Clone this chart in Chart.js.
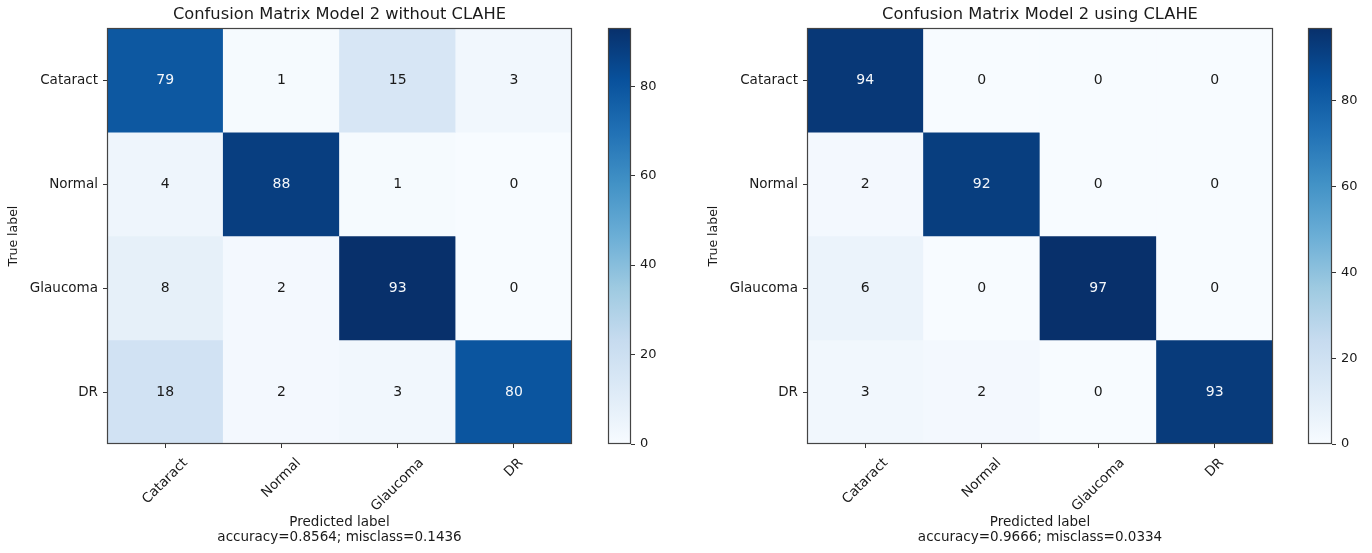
<!DOCTYPE html>
<html>
<head>
<meta charset="utf-8">
<script src="https://cdn.jsdelivr.net/npm/chart.js@4.4.0/dist/chart.umd.min.js"></script>
<style>
  html, body { margin: 0; padding: 0; background: #fff; }
  #wrap { position: relative; width: 1372px; height: 553px; }
  canvas { position: absolute; top: 0; }
</style>
</head>
<body>
<div id="wrap">
  <canvas id="cmLeft" width="590" height="553" style="left:0px"></canvas>
  <canvas id="cbLeft" width="80" height="553" style="left:590px"></canvas>
  <canvas id="cmRight" width="590" height="553" style="left:700px"></canvas>
  <canvas id="cbRight" width="82" height="553" style="left:1290px"></canvas>
</div>
<script>
// class names, used for both axes (true label rows, predicted label columns)
const classLabels = ["Cataract", "Normal", "Glaucoma", "DR"];

// model 2 without CLAHE, one array per true class
const noClaheCataract = [79, 1, 15, 3];
const noClaheNormal   = [4, 88, 1, 0];
const noClaheGlaucoma = [8, 2, 93, 0];
const noClaheDR       = [18, 2, 3, 80];

// model 2 using CLAHE
const claheCataract = [94, 0, 0, 0];
const claheNormal   = [2, 92, 0, 0];
const claheGlaucoma = [6, 0, 97, 0];
const claheDR       = [3, 2, 0, 93];

const colorbarTicks = [0, 20, 40, 60, 80];

// matplotlib "Blues"
const bluesStops = ["#f7fbff", "#deebf7", "#c6dbef", "#9ecae1", "#6baed6", "#4292c6", "#2171b5", "#08519c", "#08306b"];

const FONT = "DejaVu Sans";
const TXT = "#1a1a1a";

const hexToRgb = h => [1, 3, 5].map(i => parseInt(h.substr(i, 2), 16));

const blues = (t) => {
    t = Math.max(0, Math.min(1, t));
    const pos = t * (bluesStops.length - 1);
    const i = Math.min(Math.floor(pos), bluesStops.length - 2);
    const f = pos - i;
    const a = hexToRgb(bluesStops[i]);
    const b = hexToRgb(bluesStops[i + 1]);
    const c = a.map((v, k) => Math.round(v + (b[k] - v) * f));
    return `rgb(${c[0]}, ${c[1]}, ${c[2]})`;
};

const framePlugin = {
    id: "frame",
    afterDatasetsDraw(chart) {
        const { ctx, chartArea: a } = chart;
        ctx.save();
        ctx.strokeStyle = "#444";
        ctx.lineWidth = 1.2;
        ctx.strokeRect(Math.round(a.left) + 0.5, Math.round(a.top) + 0.5,
            Math.round(a.right - a.left) - 1, Math.round(a.bottom - a.top) - 1);
        ctx.restore();
    }
};

const makeMatrix = (canvasId, title, xTitle, rows, padRight) => {
    const maxVal = Math.max(...rows.flat());
    const datasets = rows.map((row, r) => ({
        label: classLabels[r],
        data: row.map(() => [r, r + 1]),
        values: row,
        backgroundColor: row.map(v => blues(v / maxVal)),
        borderWidth: 0,
        grouped: false,
        barPercentage: 1,
        categoryPercentage: 1
    }));

    const cellText = {
        id: "cellText",
        afterDatasetsDraw(chart) {
            const ctx = chart.ctx;
            ctx.save();
            ctx.font = `14px "${FONT}"`;
            ctx.textAlign = "center";
            ctx.textBaseline = "middle";
            chart.data.datasets.forEach((ds, r) => {
                chart.getDatasetMeta(r).data.forEach((bar, c) => {
                    const v = ds.values[c];
                    ctx.fillStyle = v > maxVal / 1.5 ? "#f4f7fb" : TXT;
                    ctx.fillText(String(v), bar.x, (bar.y + bar.base) / 2);
                });
            });
            ctx.restore();
        }
    };

    // x tick labels rotated 45deg and centred under each tick
    const rotatedLabels = {
        id: "rotatedLabels",
        afterDraw(chart) {
            const ctx = chart.ctx;
            const xs = chart.scales.x;
            ctx.save();
            ctx.font = `13.5px "${FONT}"`;
            ctx.fillStyle = TXT;
            ctx.textAlign = "center";
            ctx.textBaseline = "middle";
            chart.data.labels.forEach((lab, i) => {
                const x = xs.getPixelForTick(i);
                const w = ctx.measureText(lab).width;
                const cy = xs.top + 13 + (w + 11) * 0.7071 / 2;
                ctx.save();
                ctx.translate(x, cy);
                ctx.rotate(-Math.PI / 4);
                ctx.fillText(lab, 0, 0);
                ctx.restore();
            });
            ctx.restore();
        }
    };

    return new Chart(document.getElementById(canvasId), {
        type: "bar",
        data: { labels: classLabels, datasets: datasets },
        options: {
            responsive: false,
            animation: false,
            layout: { padding: { left: 0, top: 0, right: padRight, bottom: 0 } },
            plugins: {
                legend: { display: false },
                tooltip: { enabled: false },
                title: {
                    display: true,
                    text: title,
                    fullSize: false,
                    color: TXT,
                    font: { family: FONT, size: 16.3, weight: "normal" },
                    padding: { top: 5, bottom: 3.5 }
                }
            },
            scales: {
                x: {
                    type: "category",
                    offset: true,
                    grid: { display: true, drawOnChartArea: false, drawTicks: true, tickLength: 4, offset: false, color: "#333" },
                    border: { display: false },
                    ticks: { display: false },
                    title: {
                        display: true,
                        text: ["Predicted label", xTitle],
                        color: TXT,
                        font: { family: FONT, size: 13.5, lineHeight: 1.12 },
                        padding: { top: 0, bottom: 8 }
                    },
                    afterFit: s => { s.height = 109; }
                },
                y: {
                    type: "linear",
                    min: 0,
                    max: 4,
                    reverse: true,
                    afterBuildTicks: s => { s.ticks = [0.5, 1.5, 2.5, 3.5].map(v => ({ value: v })); },
                    grid: { display: true, drawOnChartArea: false, drawTicks: true, tickLength: 4, color: "#333" },
                    border: { display: false },
                    ticks: {
                        callback: (v, i) => classLabels[i],
                        color: TXT,
                        padding: 5,
                        font: { family: FONT, size: 13.5 }
                    },
                    title: {
                        display: true,
                        text: "True label",
                        color: TXT,
                        font: { family: FONT, size: 12.5 },
                        padding: { top: 6, bottom: 0 }
                    },
                    afterFit: s => { s.width = 107; }
                }
            }
        },
        plugins: [cellText, rotatedLabels, framePlugin]
    });
};

const makeColorbar = (canvasId, rows, axisWidth) => {
    const maxVal = Math.max(...rows.flat());
    return new Chart(document.getElementById(canvasId), {
        type: "bar",
        data: {
            labels: [""],
            datasets: [{
                data: [[0, maxVal]],
                backgroundColor: (context) => {
                    const area = context.chart.chartArea;
                    if (!area) return bluesStops[4];
                    const g = context.chart.ctx.createLinearGradient(0, area.bottom, 0, area.top);
                    bluesStops.forEach((c, i) => g.addColorStop(i / (bluesStops.length - 1), c));
                    return g;
                },
                borderWidth: 0,
                barPercentage: 1,
                categoryPercentage: 1
            }]
        },
        options: {
            responsive: false,
            animation: false,
            layout: { padding: { left: 18, top: 28, right: 0, bottom: 109 } },
            plugins: { legend: { display: false }, tooltip: { enabled: false } },
            scales: {
                x: { display: false },
                y: {
                    position: "right",
                    min: 0,
                    max: maxVal,
                    afterBuildTicks: s => { s.ticks = colorbarTicks.map(v => ({ value: v })); },
                    grid: { display: true, drawOnChartArea: false, drawTicks: true, tickLength: 4, color: "#333" },
                    border: { display: false },
                    ticks: { color: TXT, padding: 5, font: { family: FONT, size: 13 } },
                    afterFit: s => { s.width = axisWidth; }
                }
            }
        },
        plugins: [framePlugin]
    });
};

const noClaheRows = [noClaheCataract, noClaheNormal, noClaheGlaucoma, noClaheDR];
const claheRows = [claheCataract, claheNormal, claheGlaucoma, claheDR];

makeMatrix("cmLeft", "Confusion Matrix Model 2 without CLAHE", "accuracy=0.8564; misclass=0.1436", noClaheRows, 18);
makeColorbar("cbLeft", noClaheRows, 39);
makeMatrix("cmRight", "Confusion Matrix Model 2 using CLAHE", "accuracy=0.9666; misclass=0.0334", claheRows, 17);
makeColorbar("cbRight", claheRows, 40);
</script>
</body>
</html>
